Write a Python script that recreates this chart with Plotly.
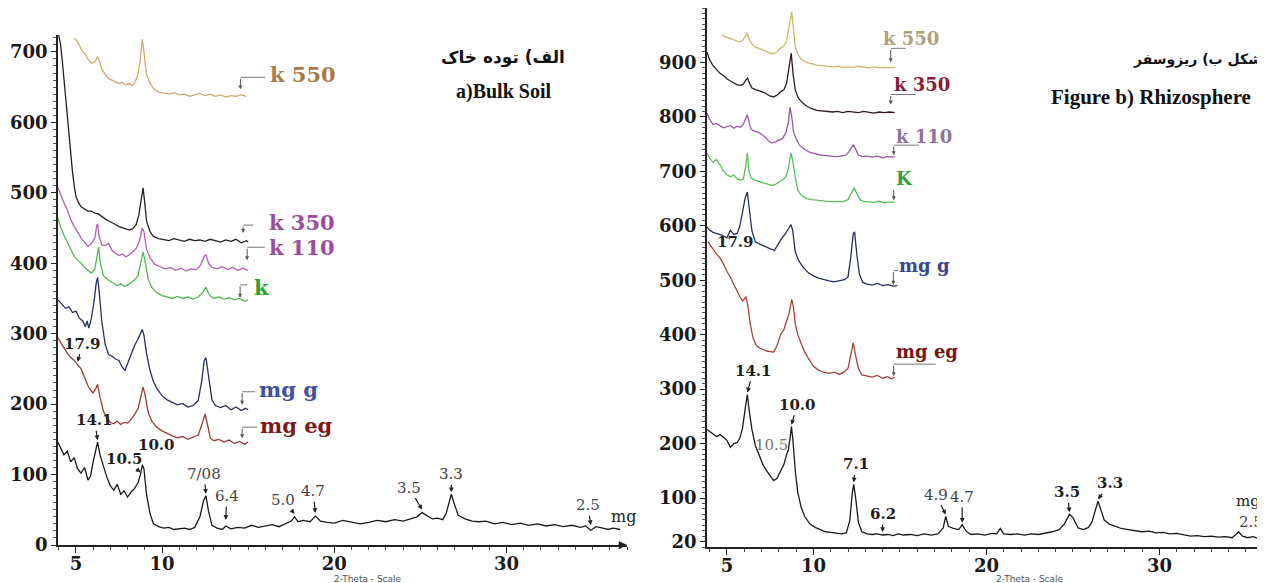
import numpy as np
import plotly.graph_objects as go

# ---------------- data: (2-theta, intensity) ----------------
# a) Bulk soil
L_K550 = [(4.9,720),(5.15,712),(5.3,704),(5.5,698),(5.7,690),(5.9,684),(6.1,686),(6.25,693),(6.35,688),(6.5,676),
          (6.7,668),(6.9,662),(7.1,660),(7.3,657),(7.5,655),(7.7,657),(7.9,653),(8.1,655),(8.3,652),(8.45,658),
          (8.6,668),(8.75,690),(8.85,718),(8.95,700),(9.1,668),(9.3,656),(9.5,648),(9.8,643),(10.1,641),(10.4,640),
          (10.7,642),(11.0,639),(11.3,640),(11.6,637),(11.9,639),(12.2,641),(12.5,638),(12.8,640),(13.1,637),(13.4,639),
          (13.7,636),(14.0,638),(14.3,637),(14.6,639),(14.9,637)]
L_K350 = [(3.97,727),(4.1,712),(4.2,690),(4.3,662),(4.4,640),(4.5,612),(4.6,585),(4.7,556),(4.8,530),(4.9,510),
          (5.0,495),(5.15,486),(5.3,480),(5.5,477),(5.7,474),(5.9,474),(6.1,471),(6.3,470),(6.5,466),(6.7,463),
          (6.9,460),(7.1,458),(7.3,455),(7.5,452),(7.7,450),(7.9,448),(8.1,447),(8.3,449),(8.5,455),(8.65,468),
          (8.8,490),(8.9,507),(8.98,490),(9.1,460),(9.3,445),(9.5,438),(9.8,435),(10.1,434),(10.4,432),(10.7,435),
          (11.0,433),(11.3,431),(11.6,434),(11.9,432),(12.2,433),(12.5,431),(12.8,434),(13.1,432),(13.4,430),(13.7,433),
          (14.0,431),(14.3,434),(14.6,429),(14.9,432),(15.0,430)]
L_K110 = [(3.96,507),(4.1,498),(4.3,486),(4.5,476),(4.7,462),(4.9,452),(5.1,443),(5.3,436),(5.5,430),(5.7,424),
          (5.9,428),(6.1,436),(6.2,452),(6.26,456),(6.35,438),(6.5,426),(6.7,425),(6.9,428),(7.1,418),(7.3,414),
          (7.5,411),(7.7,413),(7.9,409),(8.1,412),(8.3,416),(8.5,421),(8.7,432),(8.85,450),(8.95,445),(9.1,420),
          (9.3,408),(9.6,398),(9.9,395),(10.2,392),(10.5,394),(10.8,390),(11.1,393),(11.4,389),(11.7,392),(12.0,391),
          (12.25,398),(12.45,410),(12.55,412),(12.7,400),(12.9,394),(13.2,392),(13.5,395),(13.8,391),(14.1,394),(14.4,390),
          (14.7,393),(15.0,390)]
L_K = [(3.96,464),(4.1,452),(4.3,440),(4.5,430),(4.7,418),(4.9,410),(5.1,404),(5.3,400),(5.5,394),(5.7,390),
       (5.9,386),(6.1,392),(6.25,412),(6.32,423),(6.42,400),(6.6,382),(6.8,378),(7.0,374),(7.2,372),(7.4,368),
       (7.6,371),(7.8,367),(8.0,369),(8.2,373),(8.4,376),(8.6,382),(8.75,398),(8.9,416),(9.0,405),(9.2,377),
       (9.4,366),(9.7,358),(10.0,354),(10.3,352),(10.6,350),(10.9,353),(11.2,350),(11.5,352),(11.8,349),(12.1,352),
       (12.35,358),(12.55,366),(12.75,355),(13.0,350),(13.3,352),(13.6,349),(13.9,351),(14.2,348),(14.5,350),(14.8,346),
       (15.0,348)]
L_MGG = [(3.96,348),(4.2,342),(4.4,336),(4.6,338),(4.8,330),(5.0,332),(5.2,322),(5.4,318),(5.55,310),(5.65,318),
         (5.75,308),(5.9,322),(6.05,345),(6.18,372),(6.26,380),(6.35,360),(6.5,318),(6.7,285),(6.9,270),(7.1,268),
         (7.3,264),(7.5,262),(7.7,252),(7.85,248),(8.0,258),(8.2,272),(8.4,283),(8.6,292),(8.75,300),(8.85,306),
         (8.95,298),(9.1,272),(9.3,248),(9.5,232),(9.7,222),(10.0,212),(10.3,206),(10.6,203),(10.9,199),(11.2,201),
         (11.5,196),(11.8,198),(12.1,205),(12.3,232),(12.45,262),(12.55,266),(12.7,238),(12.9,206),(13.1,198),(13.4,195),
         (13.7,198),(14.0,192),(14.3,196),(14.6,191),(14.85,194),(15.0,192)]
L_MGEG = [(3.96,294),(4.1,288),(4.3,279),(4.5,272),(4.7,266),(4.9,262),(5.1,256),(5.3,250),(5.5,238),(5.7,226),
          (5.85,220),(6.0,216),(6.15,222),(6.26,228),(6.4,210),(6.6,190),(6.8,180),(7.0,174),(7.2,172),(7.4,176),
          (7.6,171),(7.8,174),(8.0,173),(8.2,178),(8.4,185),(8.6,193),(8.75,208),(8.9,224),(9.0,215),(9.2,188),
          (9.4,176),(9.7,167),(10.0,162),(10.3,158),(10.6,155),(10.9,152),(11.2,154),(11.5,150),(11.8,153),(12.1,156),
          (12.3,170),(12.5,186),(12.65,170),(12.8,152),(13.0,148),(13.3,150),(13.6,146),(13.9,149),(14.2,144),(14.5,147),
          (14.8,143),(15.0,146)]
L_MG = [(3.96,146),(4.1,138),(4.3,128),(4.5,133),(4.7,118),(4.9,124),(5.1,108),(5.3,102),(5.5,110),(5.7,92),
        (5.85,98),(6.0,118),(6.15,136),(6.26,146),(6.4,128),(6.6,110),(6.8,96),(7.0,84),(7.2,78),(7.4,86),
        (7.6,72),(7.8,77),(8.0,68),(8.2,75),(8.4,80),(8.6,88),(8.75,100),(8.86,114),(8.95,108),(9.1,72),
        (9.3,45),(9.5,30),(9.8,26),(10.1,24),(10.4,25),(10.7,22),(11.0,23),(11.3,24),(11.6,22),(11.9,25),
        (12.2,40),(12.4,62),(12.55,70),(12.7,48),(12.9,28),(13.2,24),(13.5,22),(13.7,27),(14.0,23),(14.4,25),
        (14.8,24),(15.2,28),(15.6,25),(16.0,27),(16.4,29),(16.8,26),(17.2,30),(17.5,34),(17.7,40),(17.9,33),
        (18.2,35),(18.6,33),(18.9,41),(19.2,34),(19.6,32),(20.0,31),(20.5,35),(21.0,33),(21.5,30),(22.0,32),
        (22.5,35),(23.0,33),(23.5,36),(24.0,34),(24.4,37),(24.8,40),(25.1,46),(25.4,41),(25.7,37),(26.0,38),
        (26.3,36),(26.5,45),(26.65,60),(26.8,72),(26.95,60),(27.2,42),(27.6,37),(28.0,34),(28.4,33),(28.8,34),
        (29.3,30),(29.8,32),(30.3,29),(30.8,31),(31.3,28),(31.8,30),(32.3,27),(32.8,29),(33.3,26),(33.8,28),
        (34.3,25),(34.6,27),(34.9,21),(35.2,26),(35.6,24),(35.9,22),(36.2,24),(36.6,22)]

# b) Rhizosphere
R_K550 = [(4.7,950),(4.9,948),(5.1,945),(5.3,943),(5.5,940),(5.7,938),(5.9,940),(6.05,948),(6.18,954),(6.3,942),
          (6.45,934),(6.65,928),(6.85,925),(7.05,923),(7.3,920),(7.5,917),(7.7,916),(7.9,920),(8.1,926),(8.3,930),
          (8.45,940),(8.6,965),(8.75,993),(8.85,960),(8.95,930),(9.1,915),(9.3,906),(9.6,900),(9.9,897),(10.2,895),
          (10.5,894),(10.8,893),(11.1,892),(11.4,893),(11.7,891),(12.0,892),(12.3,891),(12.6,893),(12.9,891),(13.2,890),
          (13.5,892),(13.8,890),(14.1,891),(14.4,890),(14.7,891)]
R_K350 = [(3.85,919),(4.0,905),(4.2,894),(4.4,886),(4.6,880),(4.8,876),(5.0,870),(5.2,866),(5.4,862),(5.6,859),
          (5.8,858),(5.95,860),(6.1,868),(6.2,871),(6.3,862),(6.45,853),(6.65,850),(6.85,848),(7.05,846),(7.3,842),
          (7.5,838),(7.7,837),(7.9,840),(8.1,846),(8.3,850),(8.45,862),(8.6,890),(8.72,917),(8.82,880),(8.95,850),
          (9.1,836),(9.3,828),(9.6,820),(9.9,815),(10.2,812),(10.5,811),(10.8,810),(11.1,809),(11.4,810),(11.7,808),
          (12.0,810),(12.3,809),(12.6,808),(12.9,810),(13.2,808),(13.5,807),(13.8,809),(14.1,808),(14.4,809),(14.7,808)]
R_K110 = [(3.85,807),(4.0,796),(4.2,786),(4.4,788),(4.6,784),(4.8,780),(5.0,782),(5.2,784),(5.4,779),(5.6,783),
          (5.8,781),(5.95,786),(6.1,798),(6.18,804),(6.28,790),(6.4,777),(6.6,774),(6.8,772),(7.0,768),(7.2,763),
          (7.4,756),(7.6,752),(7.8,754),(8.0,757),(8.2,760),(8.4,770),(8.55,790),(8.65,818),(8.75,800),(8.85,772),
          (9.0,760),(9.2,748),(9.5,740),(9.8,735),(10.1,732),(10.4,730),(10.7,729),(11.0,728),(11.3,727),(11.6,728),
          (11.9,730),(12.1,738),(12.3,749),(12.45,740),(12.6,730),(12.8,727),(13.1,728),(13.4,726),(13.7,728),(14.0,725),
          (14.3,727),(14.7,726)]
R_K = [(3.85,734),(4.0,724),(4.2,716),(4.4,722),(4.6,712),(4.8,700),(5.0,694),(5.2,690),(5.4,693),(5.6,686),
       (5.8,684),(5.95,686),(6.1,712),(6.18,734),(6.28,700),(6.4,688),(6.6,684),(6.8,682),(7.0,680),(7.2,678),
       (7.4,676),(7.6,674),(7.8,676),(8.0,680),(8.2,684),(8.4,690),(8.55,705),(8.7,734),(8.8,720),(8.95,690),
       (9.1,665),(9.3,656),(9.6,650),(9.9,648),(10.2,647),(10.5,646),(10.8,645),(11.1,644),(11.4,645),(11.7,644),
       (12.0,648),(12.2,660),(12.35,670),(12.5,660),(12.7,648),(12.9,645),(13.2,644),(13.5,643),(13.8,645),(14.1,642),
       (14.4,644),(14.7,643)]
R_MGG = [(3.85,598),(4.0,592),(4.2,588),(4.45,586),(4.7,583),(5.0,578),(5.2,592),(5.4,584),(5.6,586),(5.75,600),
         (5.9,625),(6.05,650),(6.18,662),(6.3,630),(6.45,590),(6.65,570),(6.9,566),(7.1,563),(7.35,560),(7.55,557),
         (7.75,555),(7.95,566),(8.15,576),(8.35,584),(8.55,593),(8.7,602),(8.8,592),(8.95,552),(9.15,536),(9.4,524),
         (9.7,514),(10.0,508),(10.3,504),(10.6,501),(10.9,499),(11.2,497),(11.5,499),(11.8,501),(12.0,506),(12.15,540),
         (12.3,585),(12.38,589),(12.5,550),(12.65,512),(12.85,496),(13.1,493),(13.4,491),(13.7,494),(14.0,490),(14.3,492),
         (14.6,489),(14.85,490)]
R_MGEG = [(3.9,571),(4.0,566),(4.2,556),(4.4,548),(4.6,541),(4.8,530),(5.0,516),(5.2,506),(5.4,492),(5.6,478),
          (5.75,470),(5.9,462),(6.0,465),(6.1,470),(6.2,455),(6.35,420),(6.5,395),(6.7,380),(6.9,375),(7.1,373),
          (7.3,370),(7.5,369),(7.7,368),(7.9,380),(8.1,400),(8.3,410),(8.45,425),(8.6,440),(8.75,465),(8.85,450),
          (8.95,420),(9.1,400),(9.3,383),(9.5,368),(9.7,357),(10.0,342),(10.3,335),(10.6,331),(10.9,329),(11.2,331),
          (11.5,327),(11.8,332),(12.0,338),(12.15,365),(12.3,385),(12.45,360),(12.6,338),(12.8,326),(13.1,324),(13.4,322),
          (13.7,325),(14.0,320),(14.3,323),(14.5,319),(14.7,322)]
R_MG = [(3.85,226),(4.0,222),(4.2,218),(4.4,213),(4.6,216),(4.8,212),(5.0,206),(5.2,193),(5.4,200),(5.6,202),
        (5.75,210),(5.9,228),(6.05,262),(6.18,290),(6.3,258),(6.45,225),(6.65,196),(6.9,175),(7.1,160),(7.3,150),
        (7.5,140),(7.7,132),(7.9,136),(8.1,148),(8.3,162),(8.45,180),(8.55,188),(8.65,210),(8.73,231),(8.82,205),
        (8.95,150),(9.1,110),(9.3,82),(9.5,66),(9.8,52),(10.1,46),(10.4,42),(10.7,38),(11.0,37),(11.3,36),
        (11.6,34),(11.9,36),(12.1,58),(12.25,110),(12.33,125),(12.45,98),(12.6,55),(12.8,38),(13.1,34),(13.4,33),
        (13.7,34),(14.0,32),(14.3,33),(14.6,31),(14.9,34),(15.2,32),(15.6,33),(16.0,31),(16.4,34),(16.8,32),
        (17.2,34),(17.5,45),(17.65,66),(17.8,48),(18.1,44),(18.4,42),(18.6,51),(18.8,40),(19.1,33),(19.5,34),
        (19.9,32),(20.3,35),(20.6,34),(20.8,44),(21.0,34),(21.4,33),(21.8,34),(22.2,32),(22.6,34),(23.0,33),
        (23.4,35),(23.8,38),(24.2,42),(24.5,52),(24.8,70),(25.0,64),(25.3,45),(25.6,42),(25.9,46),(26.1,56),
        (26.3,78),(26.45,94),(26.6,80),(26.8,60),(27.1,52),(27.4,48),(27.8,44),(28.2,42),(28.6,40),(29.0,38),
        (29.4,39),(29.8,36),(30.2,37),(30.6,34),(31.0,35),(31.4,32),(31.8,30),(32.2,31),(32.6,29),(33.0,30),
        (33.4,28),(33.8,29),(34.2,27),(34.45,34),(34.57,38),(34.8,30),(35.1,27),(35.4,29),(35.7,26),(36.0,31),
        (36.1,33)]

# peak d-spacing labels (text, 2-theta position)
L_PEAK_TEXT = ["17.9", "14.1", "10.5", "7/08", "6.4", "5.0", "4.7", "3.5", "3.3", "2.5"]
L_PEAK_POS = [5.1, 6.26, 8.75, 12.55, 13.7, 17.7, 18.9, 25.1, 26.8, 34.9]
R_PEAK_TEXT = ["14.1", "10.0", "7.1", "6.2", "4.9", "4.7", "3.5", "3.3", "2.5"]
R_PEAK_POS = [6.18, 8.73, 12.33, 14.0, 17.65, 18.6, 24.8, 26.45, 34.57]

LEFT_YTICKS = [0, 100, 200, 300, 400, 500, 600, 700]
RIGHT_YTICKS = [20, 100, 200, 300, 400, 500, 600, 700, 800, 900]
XTICKS = [5, 10, 20, 30]

# ---------------- layout geometry ----------------
PAGE_W, PAGE_H = 1265, 583
OFF = 8                      # default page margin around the plot div
W, H = PAGE_W - OFF, PAGE_H - OFF
SERIF = "DejaVu Serif"
TIMES = "Liberation Serif"

def fx(px):
    return (px - OFF) / W

def fy(py):
    return 1 - (py - OFF) / H

def xy(s):
    a = np.array(s, dtype=float)
    return a[:, 0], a[:, 1]

fig = go.Figure()

left_series = [
    ("k 550", L_K550, "#c9ad6e"), ("k 350", L_K350, "#2b1f1f"), ("k 110", L_K110, "#b45fb3"),
    ("k", L_K, "#52b852"), ("mg g", L_MGG, "#27305e"), ("mg eg", L_MGEG, "#9c3a3a"), ("mg", L_MG, "#1a1a1a"),
]
right_series = [
    ("k 550", R_K550, "#cbb772"), ("k 350", R_K350, "#2e1a1a"), ("k 110", R_K110, "#9d5aa8"),
    ("K", R_K, "#5cc05c"), ("mg g", R_MGG, "#25305a"), ("mg eg", R_MGEG, "#a8403c"), ("mg", R_MG, "#1a1a1a"),
]
for name, s, c in left_series:
    x, y = xy(s)
    fig.add_trace(go.Scatter(x=x, y=y, mode="lines", name=name, line=dict(color=c, width=1.3),
                             xaxis="x", yaxis="y", showlegend=False, hoverinfo="skip"))
for name, s, c in right_series:
    x, y = xy(s)
    fig.add_trace(go.Scatter(x=x, y=y, mode="lines", name=name, line=dict(color=c, width=1.3),
                             xaxis="x2", yaxis="y2", showlegend=False, hoverinfo="skip"))

annotations = []
shapes = []

# legend-style labels with elbow leaders: (text, color, size, tip dx, tip dy, arrow h, horiz w, text dx, text dy)
left_lab = [
    ("k 550", L_K550, "#a87a50", 21, -6, 7, 12, 25, 28, 15),
    ("k 350", L_K350, "#9b4c9b", 21, -5, 9, 8, 10, 24, 11),
    ("k 110", L_K110, "#9b4c9b", 21, -1, 10, 13, 18, 20, 13),
    ("k", L_K, "#2aa52a", 21, -8, 2, 13, 7, 12, 10),
    ("mg g", L_MGG, "#4050a0", 21, -6, 5, 13, 13, 15, 15),
    ("mg eg", L_MGEG, "#7a1a1a", 21, -6, 4, 11, 15, 16, 13),
]
right_lab = [
    ("k 550", R_K550, "#b0a07e", 18, -4, 5, 14, 15, -10, 24),
    ("k 350", R_K350, "#8a1a3a", 18, -4, 8, 10, 25, 1, 20),
    ("k 110", R_K110, "#9070a0", 18, -1, 2, 10, 25, 0, 19),
    ("K", R_K, "#30a040", 18, -1, 2, 12, 0, 0, 22),
    ("mg g", R_MGG, "#3a4690", 18, -4, 1, 14, 5, 4, 19),
    ("mg eg", R_MGEG, "#7a1414", 18, -1, 1, 12, 42, 0, 25),
]
for labs, xr, yr in ((left_lab, "x", "y"), (right_lab, "x2", "y2")):
    for text, s, col, fs, tdx, tdy, h, w, txd, tyd in labs:
        xe, ye = s[-1]
        annotations.append(dict(x=xe, y=ye, xref=xr, yref=yr, xshift=tdx, yshift=tdy, ax=0, ay=-h,
                                text="", showarrow=True, arrowhead=2, arrowsize=0.8, arrowwidth=1,
                                arrowcolor="#555"))
        if w > 0:
            shapes.append(dict(type="line", xref=xr, yref=yr, xsizemode="pixel", ysizemode="pixel",
                               xanchor=xe, yanchor=ye, x0=tdx, x1=tdx + w, y0=tdy + h, y1=tdy + h,
                               line=dict(color="#777", width=1)))
        annotations.append(dict(x=xe, y=ye, xref=xr, yref=yr, xshift=tdx + txd, yshift=tdy + tyd,
                                text=text, showarrow=False, xanchor="left", yanchor="middle",
                                font=dict(family=SERIF, size=fs, color=col, weight="bold")))

# peak labels with arrows: (ax, ay, gap, bold)
left_peak_style = [(5, -18, 3, True), (-3, -20, 2, True), (-16, -14, 2, True), (-2, -20, 2, False),
                   (1, -24, 6, False), (-12, -14, 3, False), (-2, -22, 3, False), (-13, -22, 3, False),
                   (0, -18, 2, False), (-3, -20, 5, False)]
right_peak_style = [(6, -22, 2, True), (6, -20, 2, True), (2, -18, 2, True), (0, -18, 3, True),
                    (-10, -20, 2, False), (0, -26, 2, False), (-2, -20, 2, True), (12, -16, 2, True),
                    (12, -8, 2, False)]

def add_peaks(texts, poss, styles, series_for, xr, yr):
    for i, (t, p) in enumerate(zip(texts, poss)):
        ax, ay, gap, bold = styles[i]
        sx, sy = xy(series_for(i))
        yv = float(np.interp(p, sx, sy))
        annotations.append(dict(x=p, y=yv, xref=xr, yref=yr, yshift=gap, ax=ax, ay=ay, text=t,
                                showarrow=True, arrowhead=2, arrowsize=0.8, arrowwidth=1.2,
                                arrowcolor="#222", standoff=0,
                                font=dict(family=SERIF, size=15, color="#1e1e1e" if bold else "#444",
                                          weight="bold" if bold else "normal")))

add_peaks(L_PEAK_TEXT, L_PEAK_POS, left_peak_style, lambda i: L_MGEG if i == 0 else L_MG, "x", "y")
add_peaks(R_PEAK_TEXT, R_PEAK_POS, right_peak_style, lambda i: R_MG, "x2", "y2")

def add_free(text, s, at, xr, yr, dx, dy, bold=True, color="#1e1e1e", size=15):
    sx, sy = xy(s)
    yv = float(np.interp(at, sx, sy))
    annotations.append(dict(x=at, y=yv, xref=xr, yref=yr, xshift=dx, yshift=dy, text=text, showarrow=False,
                            font=dict(family=SERIF, size=size, color=color, weight="bold" if bold else "normal")))

add_free("10.0", L_MG, 8.86, "x", "y", 14, 20)
add_free("mg", L_MG, L_MG[-1][0], "x", "y", 3, 13, bold=False, color="#222", size=16)
add_free("10.5", R_MG, 8.73, "x2", "y2", -20, -18, bold=False, color="#777")
add_free("17.9", R_MGG, 5.5, "x2", "y2", 0, -8)
add_free("mg", R_MG, R_MG[-1][0], "x2", "y2", -17, 33, bold=False, color="#222", size=15)

# x-axis arrow (left panel)
annotations.append(dict(x=37.0, y=0, xref="x", yref="y", ax=-10, ay=0, text="", showarrow=True,
                        arrowhead=2, arrowsize=1.1, arrowwidth=1.5, arrowcolor="#222"))

# titles and axis captions (positions given in page pixels)
def ptext(text, px, py, family, size, bold=True, color="#111", xanchor="center"):
    annotations.append(dict(x=fx(px), y=fy(py), xref="paper", yref="paper", text=text, showarrow=False,
                            xanchor=xanchor, yanchor="middle",
                            font=dict(family=family, size=size, color=color, weight="bold" if bold else "normal")))

ptext("الف) توده خاک", 503, 58, "DejaVu Sans", 17)
ptext("a)Bulk Soil", 503, 92, TIMES, 20)
ptext("شکل ب) ریزوسفر", 1264, 60, "DejaVu Sans", 14, xanchor="right")
ptext("Figure b) Rhizosphere", 1151, 97, TIMES, 21)
ptext("2-Theta - Scale", 368, 579, "DejaVu Sans", 9, bold=False, color="#555")
ptext("2-Theta - Scale", 1030, 579, "DejaVu Sans", 9, bold=False, color="#555")

tickfont = dict(family=SERIF, size=18, color="#1a1a1a", weight="bold")
common_ax = dict(showline=True, linecolor="#222", linewidth=1.5, ticks="outside", tickcolor="#222",
                 tickwidth=1.3, showgrid=False, zeroline=False, tickfont=tickfont, automargin=False)

fig.update_layout(
    width=W, height=H, margin=dict(l=0, r=0, t=0, b=0, autoexpand=False),
    paper_bgcolor="white", plot_bgcolor="white", showlegend=False,
    xaxis=dict(domain=[fx(58), fx(627)], range=[3.96, 37.0], tickvals=XTICKS, ticklen=6, anchor="y",
               ticklabelstandoff=-4,
               minor=dict(tickmode="linear", tick0=0, dtick=1, ticks="outside", ticklen=3, tickcolor="#444"),
               **common_ax),
    yaxis=dict(domain=[fy(545), fy(35)], range=[0, 724], tickvals=LEFT_YTICKS, ticklen=5, anchor="x",
               minor=dict(tickmode="linear", tick0=0, dtick=10, ticks="outside", ticklen=3, tickcolor="#555"),
               **common_ax),
    xaxis2=dict(domain=[fx(707), 1.0], range=[3.85, 36.1], tickvals=XTICKS, ticklen=6, anchor="y2",
                ticklabelstandoff=-4,
                minor=dict(tickmode="linear", tick0=0, dtick=1, ticks="outside", ticklen=3, tickcolor="#444"),
                **common_ax),
    yaxis2=dict(domain=[fy(547), 1.0], range=[10, 1000], tickvals=RIGHT_YTICKS, ticklen=5, anchor="x2",
                minor=dict(tickmode="linear", tick0=0, dtick=10, ticks="outside", ticklen=3, tickcolor="#555"),
                **common_ax),
    annotations=annotations, shapes=shapes,
)

fig.write_html("out.html")
